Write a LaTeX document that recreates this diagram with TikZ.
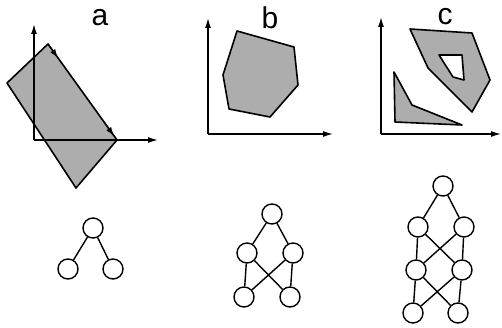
\documentclass[tikz,border=0pt]{standalone}
\usepackage{fontspec}
\setmainfont{Liberation Sans}
\usetikzlibrary{arrows.meta,calc}
\begin{document}
\begin{tikzpicture}[x=1pt,y=-1pt,
  axis/.style={line width=1.4pt,-{Latex[length=10pt,width=6pt]}},
  region/.style={draw=black,line width=1.6pt,fill=black!32,line join=round},
  hole/.style={draw=black,line width=1.6pt,fill=white,line join=round},
  lab/.style={font=\fontsize{30}{30}\selectfont,inner sep=0pt},
  nd/.style={circle,draw=black,line width=1.4pt,minimum size=20pt,inner sep=0pt},
  ed/.style={line width=1.4pt},
  tick/.style={line width=1.2pt,-{Latex[length=9pt,width=6pt]}}]
\useasboundingbox (0,0) rectangle (502,328);
% panel a
\node[lab] (la) at (100,18) {a};
\draw[region] (48,44) -- (7,83) -- (76,188) -- (117,140) -- cycle;
\coordinate (ao) at (34,140);
\coordinate (ay) at (34,24);
\coordinate (ax) at (158,140);
\draw[axis] (ao) -- (ay);
\draw[axis] (ao) -- (ax);
\coordinate (ra) at (48,44);
\coordinate (rb) at (58,58);
\coordinate (rc) at (114,136);
\coordinate (rd) at (104,122);
\draw[tick] (ra) -- (rb);
\draw[tick] (rd) -- (rc);
% panel b
\node[lab] (lb) at (270,18) {b};
\draw[region] (237,31) -- (294,47) -- (298,85) -- (270,117) -- (229,109) -- (223,75) -- cycle;
\coordinate (bo) at (208,134);
\coordinate (by) at (208,18);
\coordinate (bx) at (333,134);
\draw[axis] (bo) -- (by);
\draw[axis] (bo) -- (bx);
% panel c
\node[lab] (lc) at (445,17) {c};
\draw[region] (410,29) -- (472,33) -- (490,80) -- (472,112) -- (428,68) -- cycle;
\draw[hole] (439,55) -- (462,55) -- (464,80) -- (453,77) -- cycle;
\draw[region] (394,72) -- (412,105) -- (462,125) -- (395,122) -- cycle;
\coordinate (co) at (381,134);
\coordinate (cy) at (381,17);
\coordinate (cx) at (501,134);
\draw[axis] (co) -- (cy);
\draw[axis] (co) -- (cx);
% graph a
\node[nd] (a1) at (93,228) {};
\node[nd] (a2) at (68,269) {};
\node[nd] (a3) at (113,269) {};
\draw[ed] (a1) -- (a2) (a1) -- (a3);
% graph b
\node[nd] (b1) at (272,214) {};
\node[nd] (b2) at (247,253) {};
\node[nd] (b3) at (293,253) {};
\node[nd] (b4) at (244,297) {};
\node[nd] (b5) at (290,297) {};
\draw[ed] (b1) -- (b2) (b1) -- (b3) (b2) -- (b4) (b3) -- (b5) (b2) -- (b5) (b3) -- (b4);
% graph c
\node[nd] (c1) at (443,186) {};
\node[nd] (c2) at (418,227) {};
\node[nd] (c3) at (464,227) {};
\node[nd] (c4) at (416,270) {};
\node[nd] (c5) at (462,270) {};
\node[nd] (c6) at (413,313) {};
\node[nd] (c7) at (458,313) {};
\draw[ed] (c1) -- (c2) (c1) -- (c3) (c2) -- (c4) (c3) -- (c5) (c2) -- (c5) (c3) -- (c4)
  (c4) -- (c6) (c5) -- (c7) (c4) -- (c7) (c5) -- (c6);
\end{tikzpicture}
\end{document}
